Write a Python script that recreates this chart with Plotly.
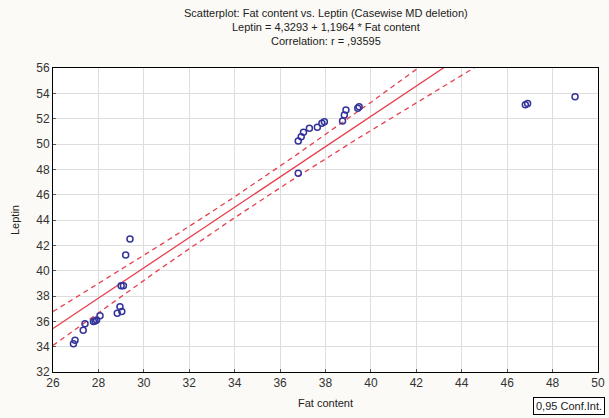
import numpy as np
import plotly.graph_objects as go

# Data
fat = [26.9, 26.97, 27.33, 27.41, 27.78, 27.85, 27.92, 28.07,
       28.83, 28.95, 29.03, 29.0, 29.1, 29.2, 29.39,
       36.8, 36.8, 36.93, 37.03, 37.29, 37.64, 37.84, 37.95,
       38.75, 38.83, 38.9, 39.42, 39.48,
       46.8, 46.9, 48.99]
leptin = [34.24, 34.5, 35.3, 35.8, 35.98, 36.03, 36.1, 36.45,
          36.64, 37.16, 36.77, 38.8, 38.8, 41.24, 42.5,
          47.69, 50.24, 50.58, 50.92, 51.24, 51.32, 51.63, 51.76,
          51.82, 52.29, 52.68, 52.82, 52.95,
          53.1, 53.2, 53.74]

intercept = 4.3293
slope = 1.1964
x_ticks = [26, 28, 30, 32, 34, 36, 38, 40, 42, 44, 46, 48, 50]
y_ticks = [32, 34, 36, 38, 40, 42, 44, 46, 48, 50, 52, 54, 56]
title_lines = ["Scatterplot: Fat content vs. Leptin (Casewise MD deletion)",
               "Leptin = 4,3293 + 1,1964 * Fat content",
               "Correlation: r = ,93595"]

x = np.array(fat)
y = np.array(leptin)
n = len(x)
xs = np.linspace(26, 50, 200)
yfit = intercept + slope * xs
resid = y - (intercept + slope * x)
s = np.sqrt(np.sum(resid ** 2) / (n - 2))
xbar = x.mean()
sxx = np.sum((x - xbar) ** 2)
# overlapping (hidden) cases make the real sample larger; band narrowed accordingly
band_scale = 0.72
half = band_scale * 2.045 * s * np.sqrt(1.0 / n + (xs - xbar) ** 2 / sxx)

red = "#e8404e"
blue = "#33339a"

fig = go.Figure()
fig.add_trace(go.Scatter(x=xs, y=yfit, mode="lines", line=dict(color=red, width=1.3),
                         showlegend=False, hoverinfo="skip"))
fig.add_trace(go.Scatter(x=xs, y=yfit + half, mode="lines",
                         line=dict(color=red, width=1.3, dash="5px,4px"),
                         showlegend=False, hoverinfo="skip"))
fig.add_trace(go.Scatter(x=xs, y=yfit - half, mode="lines",
                         line=dict(color=red, width=1.3, dash="5px,4px"),
                         showlegend=False, hoverinfo="skip"))
fig.add_trace(go.Scatter(x=fat, y=leptin, mode="markers",
                         marker=dict(symbol="circle-open", size=6, color=blue,
                                     line=dict(width=1.5, color=blue)),
                         showlegend=False, cliponaxis=False))

annotations = []
for i, t in enumerate(title_lines):
    annotations.append(dict(text=t, xref="paper", yref="paper", x=0.5, xanchor="center",
                            y=1 + (55 - 14 * i) / 304, yanchor="middle", showarrow=False,
                            font=dict(size=11, color="#222")))
annotations.append(dict(text="0,95 Conf.Int.", xref="paper", yref="paper",
                        x=1.012, y=-0.082, xanchor="right", yanchor="top",
                        showarrow=False, bordercolor="black", borderwidth=1, borderpad=2,
                        bgcolor="white", font=dict(size=11, color="#222")))

fig.update_layout(
    width=609, height=418,
    margin=dict(l=53, r=11, t=68, b=46, autoexpand=False),
    paper_bgcolor="#fbfaf6",
    plot_bgcolor="white",
    font=dict(family="Arial, Liberation Sans, sans-serif", size=11, color="#333"),
    xaxis=dict(range=[26, 50], tickvals=x_ticks, ticktext=[str(v) for v in x_ticks],
               showgrid=True, gridcolor="#dedede", gridwidth=1, zeroline=False,
               showline=True, linecolor="black", linewidth=1, mirror=True,
               ticks="inside", ticklen=3, tickcolor="#555", automargin=False,
               tickfont=dict(size=12, color="#333"),
               title=dict(text="Fat content", font=dict(size=11, color="#222"), standoff=9)),
    yaxis=dict(range=[32, 56], tickvals=y_ticks, ticktext=[str(v) for v in y_ticks],
               showgrid=True, gridcolor="#dedede", gridwidth=1, zeroline=False,
               showline=True, linecolor="black", linewidth=1, mirror=True,
               ticks="inside", ticklen=3, tickcolor="#555", automargin=False,
               tickfont=dict(size=12, color="#333"),
               title=dict(text="Leptin", font=dict(size=11, color="#222"), standoff=14)),
    annotations=annotations,
)

fig.write_html("out.html", config={"displayModeBar": False},
               post_script="document.body.style.margin='0px';document.body.style.padding='0px';document.body.style.overflow='hidden';")
